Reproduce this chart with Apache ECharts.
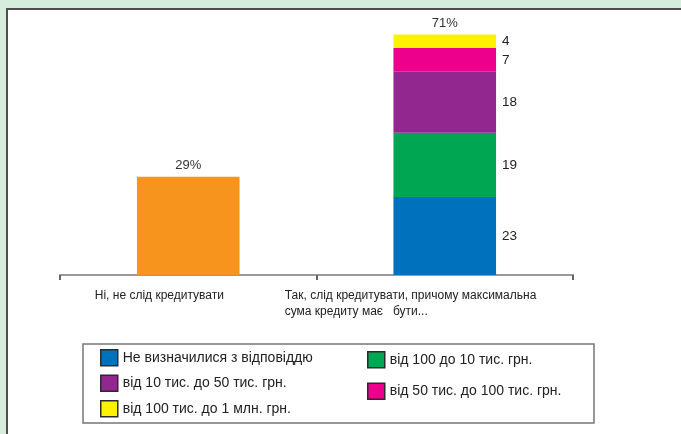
<!DOCTYPE html>
<html lang="uk">
<head>
<meta charset="UTF-8">
<title>chart</title>
<style>
body,html{margin:0;padding:0;width:681px;height:434px;background:#d6ecdc;overflow:hidden;}
.panel{position:absolute;left:6px;top:8px;width:700px;height:500px;background:#fff;border:2px solid #4e4e4e;}
#chart{position:absolute;left:0;top:0;width:681px;height:434px;}
</style>
</head>
<body>
<div class="panel"></div>
<div id="chart"></div>
<script src="https://cdn.jsdelivr.net/npm/echarts@6.0.0/dist/echarts.min.js"></script>
<script>
// categories of the x axis
var categories = [
	'Ні, не слід кредитувати',
	'Так, слід кредитувати, причому максимальна\nсума кредиту має   бути...'
];
// first bar (no)
var noName = 'Ні, не слід кредитувати';
var noValues = [29, '-'];
var noColor = '#f7941d';
// stacked second bar, bottom to top
var segNames = [
	'Не визначилися з відповіддю',
	'від 100 до 10 тис. грн.',
	'від 10 тис. до 50 тис. грн.',
	'від 50 тис. до 100 тис. грн.',
	'від 100 тис. до 1 млн. грн.'
];
var segValues = [23, 19, 18, 7, 4];
var segColors = ['#0071bc', '#00a651', '#92278f', '#ec008c', '#fff200'];
// legend columns
var legendLeft = [segNames[0], segNames[2], segNames[4]];
var legendRight = [segNames[1], segNames[3]];

var FONT = 'Arial, "Liberation Sans", sans-serif';

var totals = [noValues[0], segValues.reduce(function (a, b) { return a + b; }, 0)];

var series = [{
	name: noName,
	type: 'bar',
	stack: 'all',
	barWidth: '40%',
	data: noValues,
	itemStyle: { color: noColor },
	label: {
		show: true,
		position: 'top',
		distance: 5,
		fontFamily: FONT,
		fontSize: 13,
		color: '#333',
		formatter: '{c}%'
	}
}];
segNames.forEach(function (name, i) {
	series.push({
		name: name,
		type: 'bar',
		stack: 'all',
		data: ['-', segValues[i]],
		itemStyle: { color: segColors[i] },
		label: {
			show: true,
			position: 'right',
			distance: 6,
			fontFamily: FONT,
			fontSize: 13.5,
			color: '#222'
		}
	});
});
// zero-height cap carrying the total label of the stack
series.push({
	name: 'total',
	type: 'bar',
	stack: 'all',
	data: ['-', 0],
	itemStyle: { color: 'transparent' },
	label: {
		show: true,
		position: 'top',
		distance: 5,
		fontFamily: FONT,
		fontSize: 13,
		color: '#333',
		formatter: function (p) { return totals[p.dataIndex] + '%'; }
	}
});

var legendBase = {
	orient: 'vertical',
	icon: 'rect',
	padding: 0,
	itemWidth: 17,
	itemHeight: 16,
	selectedMode: false,
	itemStyle: { borderColor: '#2b2b2b', borderWidth: 1.5 },
	textStyle: { fontFamily: FONT, fontSize: 14, color: '#222' }
};

var option = {
	animation: false,
	backgroundColor: 'transparent',
	grid: { left: 60, right: 108, top: 21, bottom: 159, containLabel: false, outerBoundsMode: 'none' },
	xAxis: {
		type: 'category',
		data: categories,
		axisLine: { lineStyle: { color: '#9a9a9a', width: 2 } },
		axisTick: { show: true, length: 5, lineStyle: { color: '#666', width: 2 } },
		axisLabel: {
			interval: 0,
			margin: 13,
			formatter: function (v, i) {
				return v.split('\n').map(function (l) { return '{c' + i + '|' + l + '}'; }).join('\n');
			},
			rich: {
				c0: { width: 187, align: 'left', fontFamily: FONT, fontSize: 12, lineHeight: 16, color: '#222' },
				c1: { width: 320, align: 'left', fontFamily: FONT, fontSize: 12, lineHeight: 16, color: '#222' }
			}
		}
	},
	yAxis: {
		type: 'value',
		min: 0,
		max: 75,
		show: false
	},
	legend: [
		Object.assign({}, legendBase, { left: 100, top: 349, itemGap: 8, data: legendLeft }),
		Object.assign({}, legendBase, { left: 367, top: 351, itemGap: 14, data: legendRight })
	],
	graphic: [{
		type: 'rect',
		shape: { x: 83, y: 344, width: 511, height: 79 },
		style: { fill: 'none', stroke: '#777', lineWidth: 1.5 }
	}],
	series: series
};

var chart = echarts.init(document.getElementById('chart'));
chart.setOption(option);
</script>
</body>
</html>
